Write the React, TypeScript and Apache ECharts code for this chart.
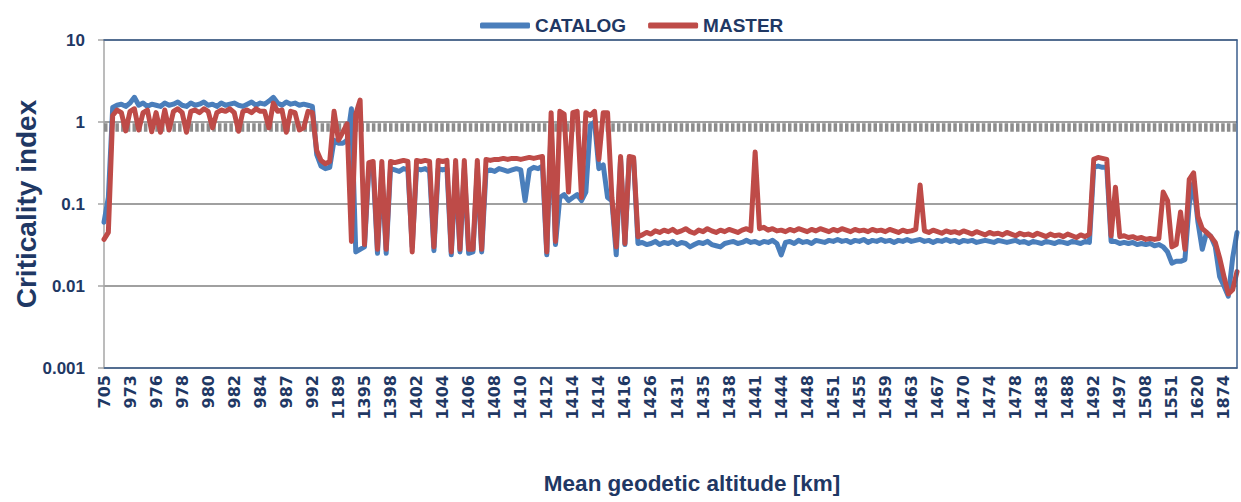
import React, { useEffect, useRef } from 'react';
import * as echarts from 'echarts';

const tickLabels = [
  '705', '973', '976', '978', '980', '982', '984', '987', '992', '1189',
  '1395', '1398', '1402', '1404', '1406', '1408', '1410', '1412', '1414', '1414',
  '1416', '1426', '1431', '1435', '1438', '1441', '1444', '1448', '1451', '1455',
  '1459', '1463', '1467', '1470', '1474', '1478', '1483', '1488', '1492', '1497',
  '1508', '1551', '1620', '1874',
];
const samplesPerTick = 6;
const yTickLabels = ['0.001', '0.01', '0.1', '1', '10'];
const threshold = 0.862;

const catalog = [
  // 0
  0.06, 0.12, 1.5, 1.6, 1.65, 1.55, 1.7, 2.0, 1.6, 1.7,
  // 10
  1.55, 1.65, 1.6, 1.55, 1.7, 1.6, 1.65, 1.75, 1.6, 1.55,
  // 20
  1.7, 1.6, 1.65, 1.75, 1.6, 1.65, 1.55, 1.7, 1.6, 1.65,
  // 30
  1.7, 1.6, 1.55, 1.65, 1.75, 1.6, 1.7, 1.65, 1.8, 2.0,
  // 40
  1.7, 1.6, 1.75, 1.65, 1.7, 1.6, 1.65, 1.6, 1.55, 0.4,
  // 50
  0.29, 0.27, 0.28, 0.6, 0.55, 0.55, 0.6, 1.45, 0.026, 0.028,
  // 60
  0.03, 0.26, 0.27, 0.025, 0.26, 0.025, 0.27, 0.26, 0.25, 0.27,
  // 70
  0.26, 0.03, 0.27, 0.26, 0.27, 0.25, 0.027, 0.27, 0.26, 0.27,
  // 80
  0.024, 0.26, 0.026, 0.27, 0.025, 0.026, 0.27, 0.026, 0.25, 0.26,
  // 90
  0.25, 0.27, 0.26, 0.25, 0.26, 0.27, 0.26, 0.11, 0.26, 0.28,
  // 100
  0.27, 0.29, 0.024, 0.9, 0.032, 0.12, 0.13, 0.11, 0.12, 0.13,
  // 110
  0.11, 0.14, 0.9, 1.0, 0.27, 0.3, 0.12, 0.11, 0.024, 0.35,
  // 120
  0.032, 0.36, 0.35, 0.033, 0.034, 0.032, 0.033, 0.035, 0.032, 0.034,
  // 130
  0.033, 0.035, 0.032, 0.034, 0.033, 0.030, 0.032, 0.034, 0.033, 0.035,
  // 140
  0.032, 0.031, 0.030, 0.033, 0.034, 0.035, 0.033, 0.034, 0.036, 0.034,
  // 150
  0.035, 0.033, 0.035, 0.034, 0.036, 0.033, 0.024, 0.034, 0.035, 0.033,
  // 160
  0.036, 0.034, 0.035, 0.033, 0.036, 0.035, 0.034, 0.036, 0.035, 0.037,
  // 170
  0.035, 0.036, 0.034, 0.036, 0.035, 0.037, 0.034, 0.036, 0.035, 0.037,
  // 180
  0.035, 0.036, 0.034, 0.036, 0.035, 0.037, 0.035, 0.036, 0.037, 0.035,
  // 190
  0.036, 0.034, 0.036, 0.035, 0.037, 0.035, 0.036, 0.034, 0.036, 0.035,
  // 200
  0.036, 0.034, 0.035, 0.036, 0.035, 0.034, 0.036, 0.035, 0.034, 0.035,
  // 210
  0.036, 0.034, 0.035, 0.033, 0.035, 0.034, 0.033, 0.035, 0.034, 0.033,
  // 220
  0.035, 0.034, 0.033, 0.035, 0.034, 0.033, 0.035, 0.034, 0.28, 0.29,
  // 230
  0.28, 0.28, 0.035, 0.035, 0.033, 0.034, 0.033, 0.034, 0.032, 0.033,
  // 240
  0.032, 0.033, 0.031, 0.032, 0.03, 0.026, 0.019, 0.02, 0.02, 0.021,
  // 250
  0.1, 0.18, 0.06, 0.028, 0.045, 0.04, 0.03, 0.013, 0.01, 0.0075,
  // 260
  0.022, 0.045,
];

const master = [
  // 0
  0.037, 0.045, 1.2, 1.4, 1.3, 0.78, 1.35, 1.45, 0.8, 1.3,
  // 10
  1.4, 0.76, 1.3, 0.75, 1.4, 0.8, 1.35, 1.45, 1.3, 0.75,
  // 20
  1.35, 1.4, 1.3, 1.45, 1.35, 0.85, 1.3, 1.4, 1.35, 1.45,
  // 30
  1.3, 0.77, 1.35, 1.4, 1.3, 1.45, 1.35, 1.35, 0.85, 1.7,
  // 40
  1.35, 1.4, 0.75, 1.35, 1.3, 0.8, 0.85, 1.35, 1.3, 0.45,
  // 50
  0.34, 0.31, 0.33, 1.35, 0.6, 0.75, 0.95, 0.035, 1.25, 1.85,
  // 60
  0.032, 0.32, 0.33, 0.028, 0.33, 0.028, 0.33, 0.32, 0.33, 0.34,
  // 70
  0.33, 0.026, 0.34, 0.33, 0.34, 0.33, 0.03, 0.34, 0.33, 0.34,
  // 80
  0.026, 0.34, 0.028, 0.34, 0.028, 0.028, 0.34, 0.028, 0.35, 0.34,
  // 90
  0.35, 0.35, 0.36, 0.35, 0.36, 0.36, 0.35, 0.36, 0.37, 0.36,
  // 100
  0.37, 0.38, 0.026, 1.3, 0.035, 1.35, 1.25, 0.14, 1.3, 1.35,
  // 110
  0.12, 1.3, 1.2, 1.35, 0.35, 1.3, 1.3, 0.12, 0.03, 0.38,
  // 120
  0.033, 0.38, 0.37, 0.04, 0.042, 0.045, 0.043, 0.047, 0.045, 0.048,
  // 130
  0.046, 0.049, 0.045, 0.047, 0.05, 0.046, 0.044, 0.048, 0.046, 0.05,
  // 140
  0.047, 0.045, 0.048, 0.046, 0.049, 0.047, 0.045, 0.048, 0.05, 0.047,
  // 150
  0.43, 0.05, 0.052, 0.048, 0.05, 0.047, 0.048, 0.046, 0.049, 0.047,
  // 160
  0.05, 0.048, 0.046, 0.049, 0.047, 0.05, 0.048, 0.046, 0.049, 0.047,
  // 170
  0.05, 0.048, 0.046, 0.049, 0.047, 0.048, 0.046, 0.049, 0.047, 0.048,
  // 180
  0.046, 0.049, 0.047, 0.045, 0.048, 0.046, 0.047, 0.049, 0.17, 0.047,
  // 190
  0.045, 0.048, 0.046, 0.044, 0.047, 0.045, 0.046, 0.044, 0.047, 0.045,
  // 200
  0.043, 0.046, 0.044, 0.042, 0.045, 0.043, 0.044, 0.042, 0.045, 0.043,
  // 210
  0.041, 0.044, 0.042, 0.043, 0.041, 0.044, 0.042, 0.04, 0.043, 0.041,
  // 220
  0.042, 0.04, 0.043, 0.041, 0.039, 0.042, 0.04, 0.043, 0.35, 0.37,
  // 230
  0.36, 0.35, 0.041, 0.16, 0.04, 0.041, 0.039, 0.04, 0.038, 0.039,
  // 240
  0.037, 0.038, 0.037, 0.038, 0.14, 0.11, 0.03, 0.032, 0.08, 0.028,
  // 250
  0.2, 0.24, 0.07, 0.05, 0.045, 0.04, 0.034, 0.022, 0.013, 0.008,
  // 260
  0.009, 0.015,
];

const categories = catalog.map(
  (_, i) => tickLabels[Math.min(Math.floor(i / samplesPerTick), tickLabels.length - 1)]
);

const NAVY = '#1f3864';
const BORDER = '#3b5e8c';
const BLUE = '#4a7ebb';
const RED = '#be4b48';
const GRID_GREY = '#a0a0a0';
const SANS = "'Liberation Sans', Arial, sans-serif";

export default function App() {
  const ref = useRef<HTMLDivElement>(null);
  useEffect(() => {
    const chart = echarts.init(ref.current as HTMLDivElement, null, { renderer: 'svg' });
    chart.setOption({
      animation: false,
      backgroundColor: '#ffffff',
      grid: { left: 104, right: 4, top: 40, bottom: 134, containLabel: false, outerBoundsMode: 'none' },
      legend: {
        data: ['CATALOG', 'MASTER'],
        left: 475,
        top: 11,
        icon: 'roundRect',
        itemWidth: 50,
        itemHeight: 6,
        itemGap: 22,
        textStyle: { fontFamily: SANS, fontWeight: 'bold', fontSize: 19, color: NAVY },
      },
      xAxis: [
        {
          type: 'category',
          data: categories,
          boundaryGap: false,
          axisLine: { onZero: false, lineStyle: { color: BORDER, width: 1.5 } },
          axisTick: { show: false },
          axisLabel: {
            interval: samplesPerTick - 1,
            rotate: 90,
            margin: 7,
            fontFamily: 'DejaVu Sans',
            fontWeight: 'bold',
            fontSize: 16,
            color: NAVY,
          },
          splitLine: { show: false },
          name: 'Mean geodetic altitude [km]',
          nameLocation: 'middle',
          nameGap: 104,
          nameTextStyle: {
            fontFamily: SANS,
            fontWeight: 'bold',
            fontSize: 22.5,
            color: NAVY,
            padding: [0, 0, 0, 43],
          },
        },
        {
          type: 'category',
          data: categories,
          boundaryGap: false,
          position: 'top',
          z: 5,
          axisLine: { show: true, onZero: false, lineStyle: { color: BORDER, width: 1.5 } },
          axisTick: { show: false },
          axisLabel: { show: false },
          splitLine: { show: false },
        },
      ],
      yAxis: [
        {
          type: 'log',
          logBase: 10,
          min: 0.001,
          max: 10,
          axisLine: { show: true, lineStyle: { color: '#a6a6a6', width: 1.5 } },
          axisTick: { show: true, length: 6, lineStyle: { color: '#a6a6a6', width: 1.5 } },
          axisLabel: {
            formatter: (v: number) => yTickLabels[Math.round(Math.log10(v)) + 3],
            fontFamily: SANS,
            fontWeight: 'bold',
            fontSize: 17,
            color: NAVY,
            margin: 19,
          },
          splitLine: { show: true, lineStyle: { color: GRID_GREY, width: 1.8 } },
          name: 'Criticality index',
          nameLocation: 'middle',
          nameGap: 64,
          nameMoveOverlap: false,
          nameTextStyle: { fontFamily: SANS, fontWeight: 'bold', fontSize: 28, color: NAVY },
        },
        {
          type: 'log',
          logBase: 10,
          min: 0.001,
          max: 10,
          position: 'right',
          z: 5,
          axisLine: { show: true, lineStyle: { color: BORDER, width: 1.5 } },
          axisTick: { show: false },
          axisLabel: { show: false },
          splitLine: { show: false },
        },
      ],
      series: [
        {
          name: 'CATALOG',
          type: 'line',
          data: catalog,
          symbol: 'none',
          showSymbol: false,
          z: 3,
          lineStyle: { width: 5, color: BLUE, join: 'round', cap: 'round' },
          itemStyle: { color: BLUE },
          markLine: {
            z: 1,
            silent: true,
            symbol: ['none', 'none'],
            label: { show: false },
            lineStyle: { color: '#8c8c8c', width: 8.5, type: [3.5, 2.2], cap: 'butt' },
            data: [{ yAxis: threshold }],
          },
        },
        {
          name: 'MASTER',
          type: 'line',
          data: master,
          symbol: 'none',
          showSymbol: false,
          z: 4,
          lineStyle: { width: 5, color: RED, join: 'round', cap: 'round' },
          itemStyle: { color: RED },
        },
      ],
    });
    return () => chart.dispose();
  }, []);
  return (
    <div
      ref={ref}
      style={{ position: 'fixed', left: 0, top: 0, width: 1241, height: 502, background: '#fff' }}
    />
  );
}
